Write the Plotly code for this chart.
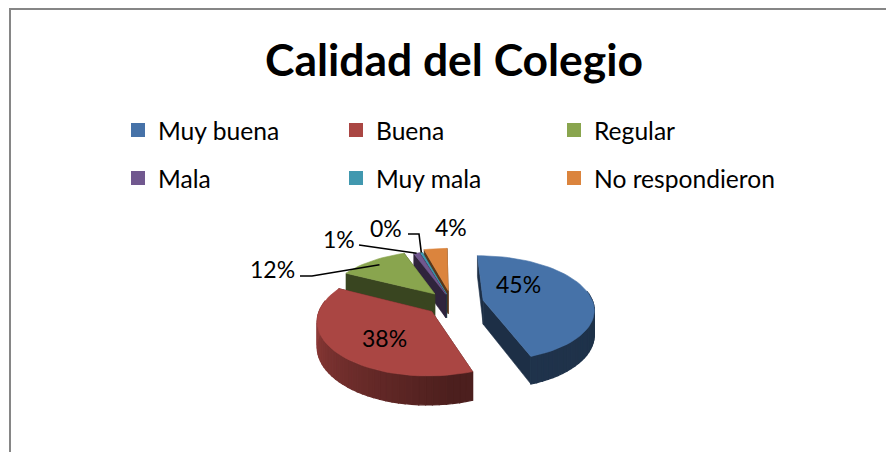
import numpy as np
import plotly.graph_objects as go

TITLE = "Calidad del Colegio"
CATEGORIES = ["Muy buena", "Buena", "Regular", "Mala", "Muy mala", "No respondieron"]
VALUES = [45, 38, 12, 1, 0.4, 4]
COLORS = ["#4672A8", "#AA4643", "#89A54E", "#71588F", "#4198AF", "#DB843D"]

# projection of the tilted disc
CX, CY, RX, RY, DEPTH, PERSP, ROT = 452, 303, 110, 52, 24, 0.15, -1
EXPLODE = [0.29, 0.24, 0.24, 0.18, 0.18, 0.25]
FONT = "Lato"


def project(u, v, z=0.0):
    s = 1 / (1 + PERSP * v)
    return CX + RX * u * s, CY - RY * v * s + DEPTH * z * s


def shade(hex_color, k):
    r, g, b = (int(hex_color[i:i + 2], 16) for i in (1, 3, 5))
    return f"rgb({int(r * k)},{int(g * k)},{int(b * k)})"


def poly(fig, pts, color, lw=0.6):
    xs, ys = zip(*pts)
    fig.add_trace(go.Scatter(
        x=list(xs) + [xs[0]], y=list(ys) + [ys[0]], mode="lines", fill="toself",
        fillcolor=color, line=dict(color=color, width=lw),
        hoverinfo="skip", showlegend=False))


total = sum(VALUES)
edges = np.concatenate([[0], np.cumsum(VALUES)]) / total * 360 + ROT
fig = go.Figure()
rim_mid = {}

for i in range(len(VALUES) - 1, -1, -1):
    a0, a1 = edges[i], edges[i + 1]
    mid = np.radians((a0 + a1) / 2)
    ou, ov = EXPLODE[i] * np.sin(mid), EXPLODE[i] * np.cos(mid)
    angles = np.linspace(a0, a1, max(2, int((a1 - a0) / 3) + 2))
    rim = [(ou + np.sin(np.radians(a)), ov + np.cos(np.radians(a))) for a in angles]
    # radial walls
    dark = shade(COLORS[i], 0.42)
    for p in (rim[0], rim[-1]):
        poly(fig, [project(ou, ov), project(*p), project(*p, 1), project(ou, ov, 1)], dark)
    # outer wall, lit from the left
    for j in range(len(rim) - 1):
        a = (angles[j] + angles[j + 1]) / 2
        if np.cos(np.radians(a)) < 0.2:
            k = float(np.interp(a, [0, 170, 270, 360], [0.42, 0.45, 0.85, 0.85]))
            poly(fig, [project(*rim[j]), project(*rim[j + 1]),
                       project(*rim[j + 1], 1), project(*rim[j], 1)], shade(COLORS[i], k), lw=1.2)
    # top face
    poly(fig, [project(ou, ov)] + [project(*p) for p in rim], COLORS[i])
    reach = 0.87 if i == 2 else 1.0
    rim_mid[i] = project(ou + reach * np.sin(mid), ov + reach * np.cos(mid))

# leader lines: knees near the labels, ends on the slices
LEADERS = {2: [(300, 276), (312, 276)], 3: [(359, 245)], 4: [(408, 234), (419, 234)]}
for i, knees in LEADERS.items():
    xs = [k[0] for k in knees] + [rim_mid[i][0]]
    ys = [k[1] for k in knees] + [rim_mid[i][1]]
    fig.add_trace(go.Scatter(x=xs, y=ys, mode="lines", line=dict(color="black", width=1.6),
                             hoverinfo="skip", showlegend=False))

# legend entries, two rows of three; the long last entry has its own box
LEGEND_OF = ["legend", "legend", "legend", "legend2", "legend2", "legend3"]
for name, color, where in zip(CATEGORIES, COLORS, LEGEND_OF):
    fig.add_trace(go.Scatter(
        x=[None], y=[None], mode="markers", name=name,
        marker=dict(symbol="square", size=14, color=color), legend=where))

LABEL_POS = [(518, 284), (384, 338), (272, 269), (339, 239), (386, 228), (451, 227)]
annotations = [
    dict(x=x, y=y, xref="x", yref="y", text=f"{round(v / total * 100)}%", showarrow=False,
         font=dict(family=FONT, size=23, color="black"), xanchor="center", yanchor="middle")
    for (x, y), v in zip(LABEL_POS, VALUES)
]

legend_style = dict(
    orientation="h", xanchor="left", yanchor="middle",
    entrywidthmode="pixels", bgcolor="rgba(0,0,0,0)", borderwidth=0,
    font=dict(family=FONT, size=24.6, color="black"), itemclick=False, itemdoubleclick=False,
)

fig.update_layout(
    width=886, height=452, margin=dict(l=0, r=0, t=0, b=0),
    paper_bgcolor="white", plot_bgcolor="white",
    title=dict(text=TITLE, x=454 / 886, xanchor="center", y=1 - 60 / 452, yanchor="middle",
               font=dict(family=FONT, size=44.4, color="black", weight=700)),
    xaxis=dict(range=[0, 886], visible=False, fixedrange=True, domain=[0, 1]),
    yaxis=dict(range=[452, 0], visible=False, fixedrange=True, domain=[0, 1]),
    legend=dict(x=118 / 886, y=1 - 130 / 452, entrywidth=173, **legend_style),
    legend2=dict(x=118 / 886, y=1 - 178 / 452, entrywidth=173, **legend_style),
    legend3=dict(x=554 / 886, y=1 - 178 / 452, entrywidth=200, **legend_style),
    annotations=annotations,
    shapes=[
        dict(type="line", xref="x", yref="y", x0=10, x1=10, y0=9, y1=452,
             line=dict(color="#868686", width=2)),
        dict(type="line", xref="x", yref="y", x0=9, x1=886, y0=9, y1=9,
             line=dict(color="#868686", width=2)),
    ],
)

fig.write_html("out.html", config={"displayModeBar": False},
               post_script="document.body.style.margin='0';")
